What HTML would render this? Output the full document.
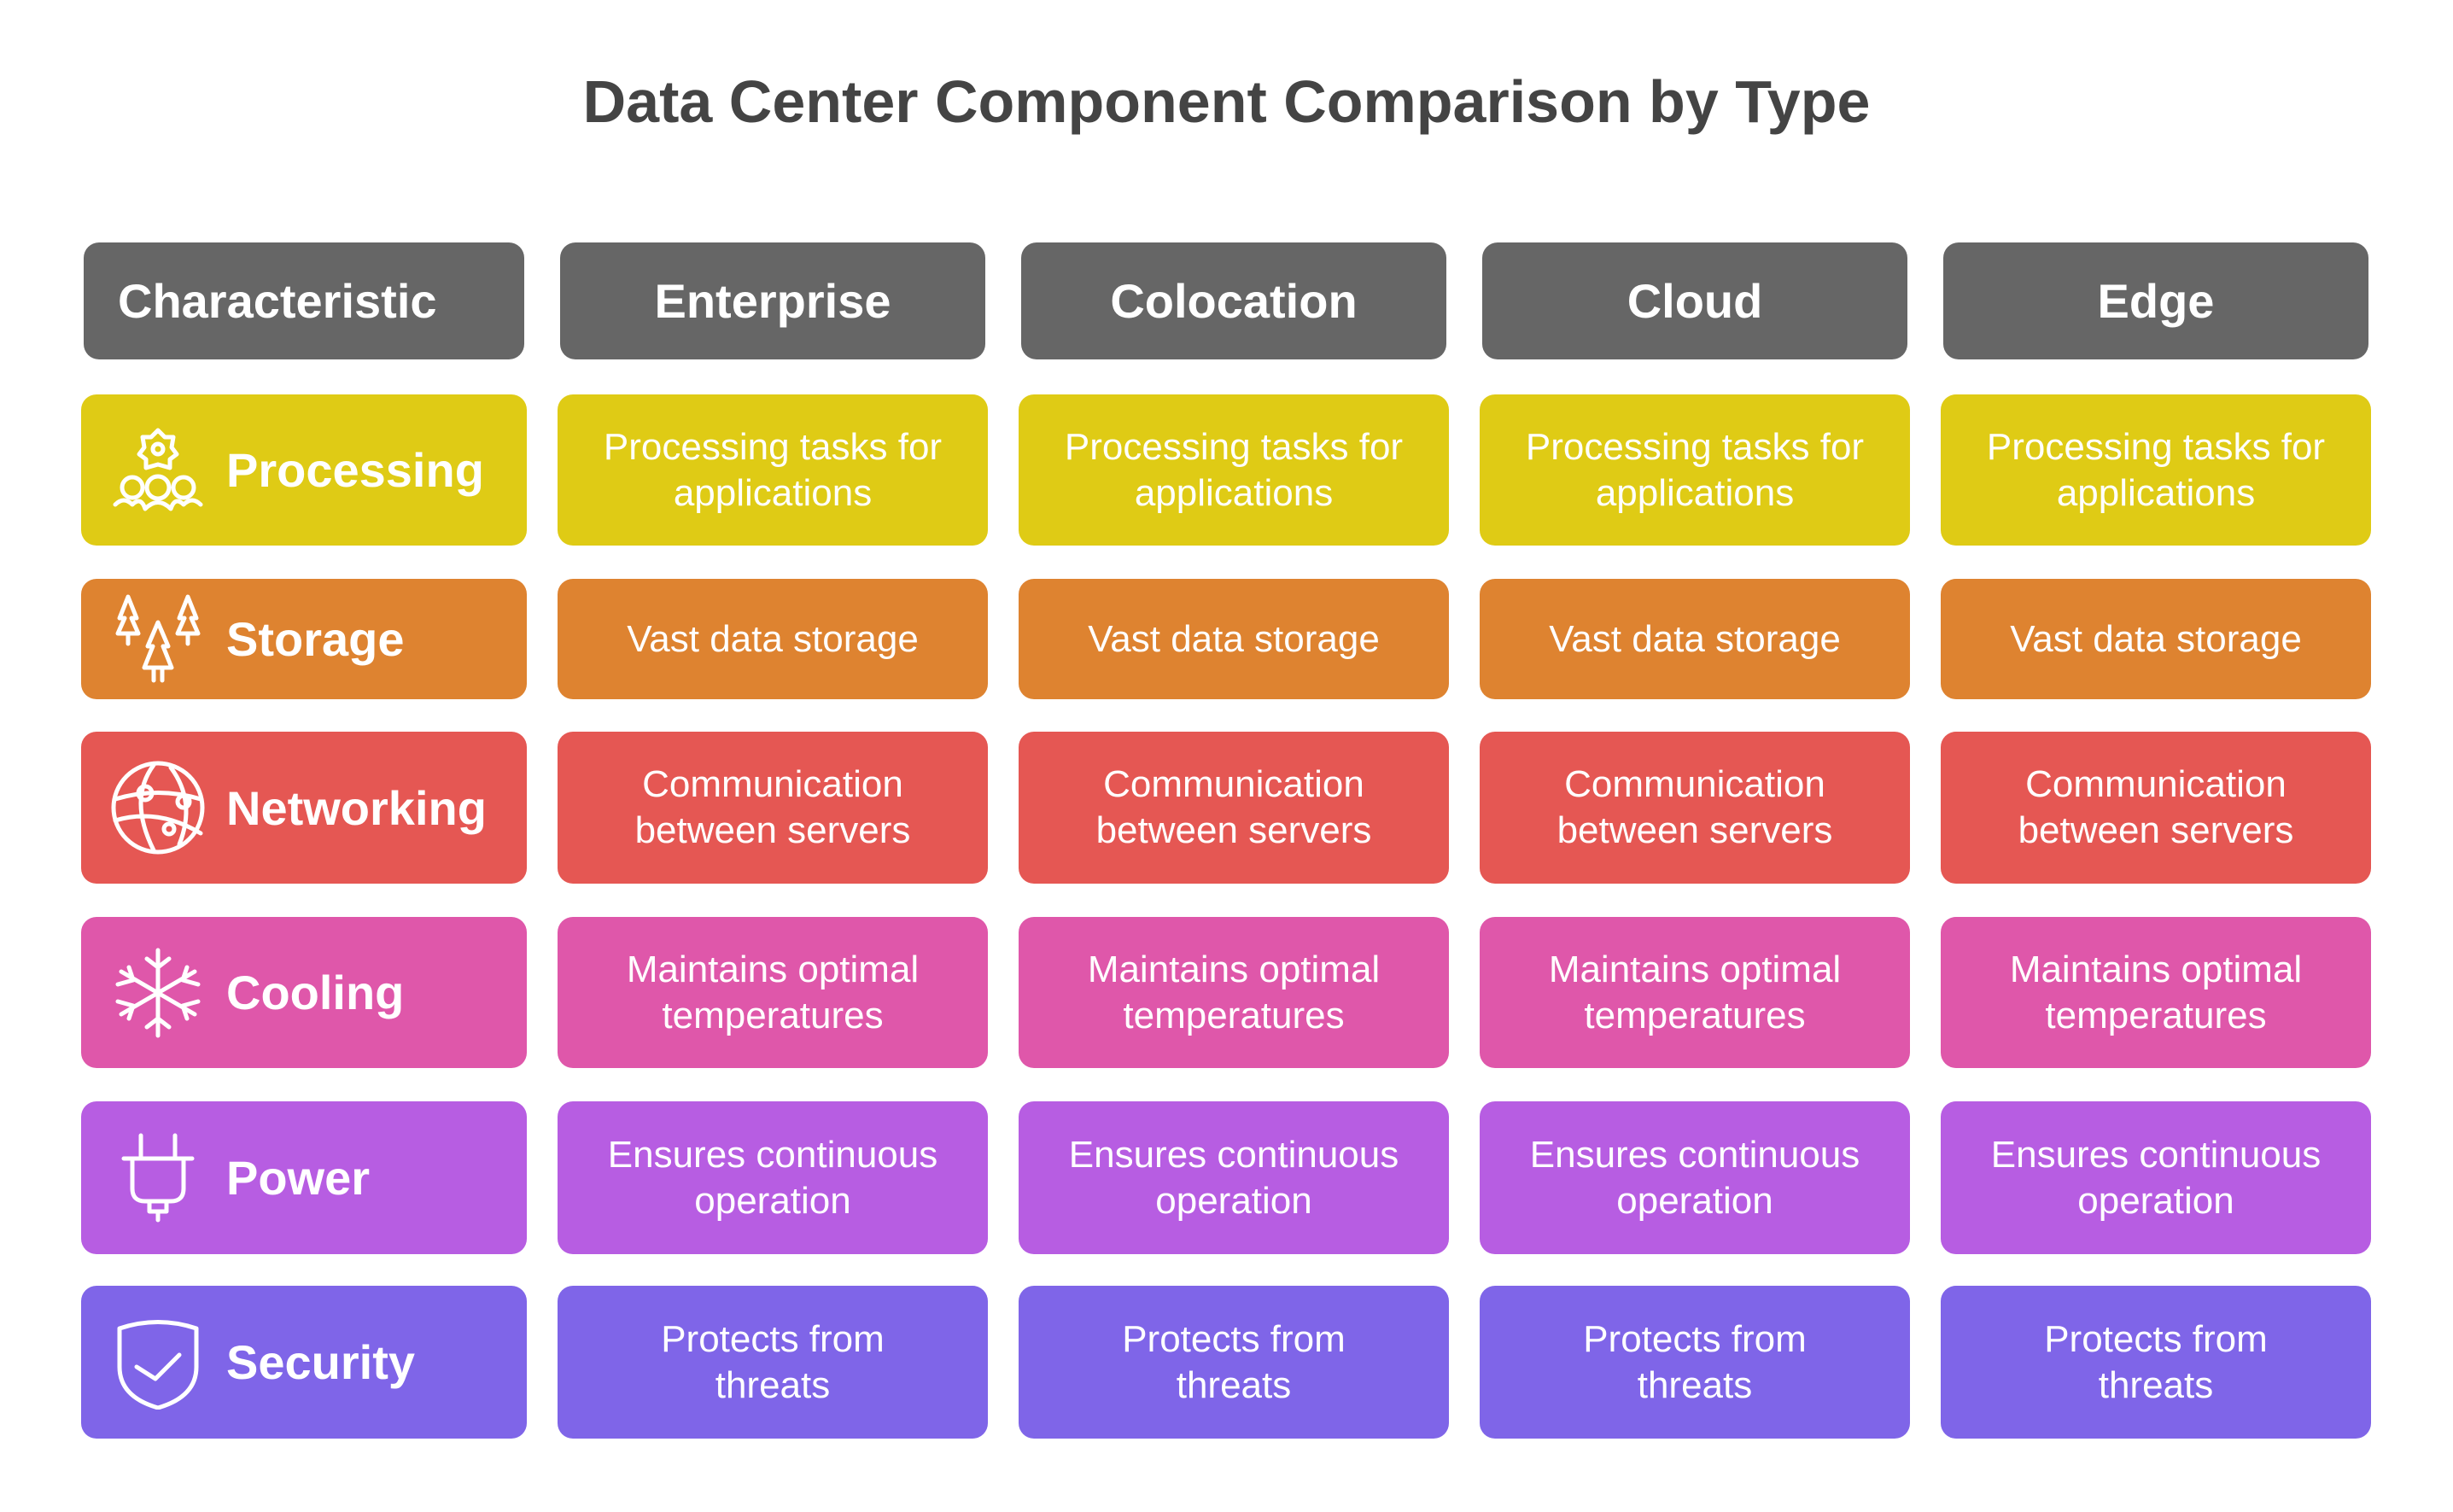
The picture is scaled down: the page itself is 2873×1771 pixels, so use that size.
<!DOCTYPE html>
<html><head><meta charset="utf-8"><style>
body{margin:0;width:2873px;height:1771px;background:#fff;position:relative;overflow:hidden;font-family:"Liberation Sans",sans-serif}
.b{position:absolute;border-radius:18px;color:#fff;display:flex;align-items:center;justify-content:center;text-align:center;box-sizing:border-box}
.h{background:#666;font-weight:bold;font-size:56px}
.d{font-size:44px;line-height:54px}
.l{justify-content:flex-start;padding-left:170px;font-weight:bold;font-size:56px}
.l svg{position:absolute;left:35px;top:50%;transform:translateY(-50%)}
h1{position:absolute;top:79px;left:0;width:2873px;text-align:center;margin:0;font-size:70px;color:#444;font-weight:bold}
</style></head><body>
<h1>Data Center Component Comparison by Type</h1>
<div class="b h" style="left:98px;top:284px;width:516px;height:137px;justify-content:flex-start;padding-left:40px">Characteristic</div>
<div class="b h" style="left:656px;top:284px;width:498px;height:137px">Enterprise</div>
<div class="b h" style="left:1196px;top:284px;width:498px;height:137px">Colocation</div>
<div class="b h" style="left:1736px;top:284px;width:498px;height:137px">Cloud</div>
<div class="b h" style="left:2276px;top:284px;width:498px;height:137px">Edge</div>
<div id="rows"></div>
<script>
var rows=[
["Processing","#DFCB15","Processing tasks for<br>applications",462,177,'<circle cx="55" cy="30" r="6"/><path d="M55 8 l8 8 l10 0 l-2 12 l6 8 l-8 6 l0 10 l-14 -4 l-14 4 l0 -10 l-8 -6 l6 -8 l-2 -12 l10 0z"/><circle cx="25" cy="75" r="12"/><circle cx="55" cy="75" r="13"/><circle cx="85" cy="75" r="12"/><path d="M5 95 q10 -10 20 0 q10 -10 15 5 q15 -15 30 0 q5 -15 15 -5 q10 -10 20 0"/>'],
["Storage","#DE8330","Vast data storage",678,141,'<path d="M20 5 l-10 25 h6 l-8 18 h24 l-8 -18 h6z M20 48 v12"/><path d="M90 5 l-10 25 h6 l-8 18 h24 l-8 -18 h6z M90 48 v12"/><path d="M55 35 l-12 28 h6 l-10 25 h32 l-10 -25 h6z M50 88 v15 M60 88 v15"/>'],
["Networking","#E55753","Communication<br>between servers",857,178,'<ellipse cx="55" cy="55" rx="52" ry="52"/><path d="M5 45 q50 -15 100 0 M5 70 q50 -15 100 15 M50 5 q-30 40 0 100 M70 8 q30 40 10 90"/><circle cx="40" cy="38" r="8"/><circle cx="85" cy="48" r="7"/><circle cx="68" cy="80" r="6"/>'],
["Cooling","#DF57AA","Maintains optimal<br>temperatures",1074,177,'<path d="M55 5 v100 M12 30 l86 50 M12 80 l86 -50 M42 15 l13 10 l13 -10 M42 95 l13 -10 l13 10 M8 45 l18 -5 l-5 -15 M102 45 l-18 -5 l5 -15 M8 65 l18 5 l-5 15 M102 65 l-18 5 l5 15"/>'],
["Power","#B75DE2","Ensures continuous<br>operation",1290,179,'<path d="M35 5 v25 M75 5 v25 M15 32 h80 M25 32 v35 q0 15 15 15 h30 q15 0 15 -15 v-35 M45 82 v12 h20 v-12 M55 94 v10"/>'],
["Security","#7F65E8","Protects from<br>threats",1506,179,'<path d="M10 15 q45 -15 90 0 v45 q0 35 -45 48 q-45 -13 -45 -48z M30 60 l22 14 l28 -28"/>']];
var xs=[653,1193,1733,2273],h="";
rows.forEach(function(r){
h+='<div class="b l" style="left:95px;top:'+r[3]+'px;width:522px;height:'+r[4]+'px;background:'+r[1]+'"><svg width="110" height="110" viewBox="0 0 110 110" fill="none" stroke="#fff" stroke-width="5" stroke-linecap="round" stroke-linejoin="round">'+r[5]+'</svg>'+r[0]+'</div>';
xs.forEach(function(x){h+='<div class="b d" style="left:'+x+'px;top:'+r[3]+'px;width:504px;height:'+r[4]+'px;background:'+r[1]+'">'+r[2]+'</div>';});
});
document.getElementById('rows').innerHTML=h;
</script>
</body></html>
